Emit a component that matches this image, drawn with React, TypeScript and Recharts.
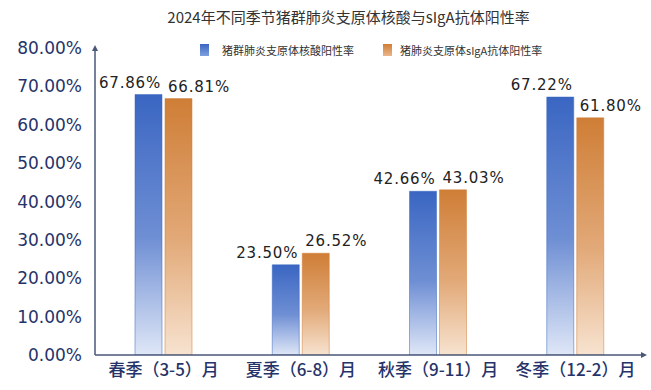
import React from 'react';
import { BarChart, Bar, XAxis, YAxis, LabelList, Legend } from 'recharts';

const categories = ['春季（3-5）月', '夏季（6-8）月', '秋季（9-11）月', '冬季（12-2）月'];
const nucleicRate = [67.86, 23.5, 42.66, 67.22];
const sigaRate = [66.81, 26.52, 43.03, 61.8];
const yTicks = [0, 10, 20, 30, 40, 50, 60, 70, 80];
const seriesNames = ['猪群肺炎支原体核酸阳性率', '猪肺炎支原体sIgA抗体阳性率'];
const titleText = '2024年不同季节猪群肺炎支原体核酸与sIgA抗体阳性率';

const data = categories.map((c, i) => ({ name: c, a: nucleicRate[i], b: sigaRate[i] }));

const NUM_FONT = '"DejaVu Sans", sans-serif';
const CJK_FONT = '"Noto Sans CJK SC", sans-serif';
const NAVY = '#26336a';

const makeLabel = (side: 'left' | 'right') => (props: any) => {
  const { x, y, width, value } = props;
  const tx = side === 'left' ? Number(x) + Number(width) - 1 : Number(x) + 3;
  return (
    <text
      x={tx}
      y={Number(y) - 7}
      textAnchor={side === 'left' ? 'end' : 'start'}
      fontFamily={NUM_FONT}
      fontSize={15}
      letterSpacing={0.8}
      fill="#222"
    >
      {Number(value).toFixed(2) + '%'}
    </text>
  );
};

const LegendContent = () => (
  <div style={{ position: 'relative', height: 16, fontFamily: CJK_FONT, fontSize: 11, color: '#333' }}>
    <div style={{ position: 'absolute', left: 200, top: 2, width: 9, height: 12, background: 'linear-gradient(#3a66c2, #7f9fdc)' }} />
    <div style={{ position: 'absolute', left: 222, top: 0, whiteSpace: 'nowrap', lineHeight: '16px' }}>{seriesNames[0]}</div>
    <div style={{ position: 'absolute', left: 383, top: 2, width: 9, height: 12, background: 'linear-gradient(#cf7e36, #eab68a)' }} />
    <div style={{ position: 'absolute', left: 400, top: 0, whiteSpace: 'nowrap', lineHeight: '16px' }}>{seriesNames[1]}</div>
  </div>
);

export default function App() {
  return (
    <div style={{ position: 'absolute', left: 0, top: 0, width: 651, height: 390, background: '#fff' }}>
      <div
        style={{
          position: 'absolute',
          left: 0,
          top: 7,
          width: 697,
          textAlign: 'center',
          fontFamily: CJK_FONT,
          fontSize: 15,
          color: '#333',
          lineHeight: '20px',
          whiteSpace: 'nowrap',
        }}
      >
        {titleText}
      </div>
      <BarChart
        width={651}
        height={390}
        data={data}
        margin={{ top: 32, right: 7, bottom: 5, left: 0 }}
        barSize={27}
        barGap={3}
      >
        <defs>
          <linearGradient id="gBlue" x1="0" y1="0" x2="0" y2="1">
            <stop offset="0%" stopColor="#3a66c2" />
            <stop offset="55%" stopColor="#6f8fd4" />
            <stop offset="100%" stopColor="#dfe7f7" />
          </linearGradient>
          <linearGradient id="gOrange" x1="0" y1="0" x2="0" y2="1">
            <stop offset="0%" stopColor="#cf7e36" />
            <stop offset="55%" stopColor="#e2a978" />
            <stop offset="100%" stopColor="#f7e3d0" />
          </linearGradient>
          <marker id="arrow" viewBox="0 0 10 10" refX="5" refY="5" markerWidth="6" markerHeight="6" orient="auto-start-reverse" markerUnits="userSpaceOnUse">
            <path d="M0,0 L10,5 L0,10 z" fill="#4a5878" />
          </marker>
        </defs>
        <Legend verticalAlign="top" content={<LegendContent />} wrapperStyle={{ top: 42, left: 0, width: 651 }} />
        <XAxis
          dataKey="name"
          axisLine={{ stroke: '#4a5878', strokeWidth: 1.5, markerEnd: 'url(#arrow)' } as any}
          tickLine={false}
          tickSize={0}
          tickMargin={9}
          height={30}
          tick={{ fill: NAVY, fontSize: 17, fontFamily: CJK_FONT, fontWeight: 500 }}
          interval={0}
        />
        <YAxis
          width={95}
          domain={[0, 80]}
          ticks={yTicks}
          allowDataOverflow
          axisLine={{ stroke: '#4a5878', strokeWidth: 1.5, markerStart: 'url(#arrow)' } as any}
          tickLine={false}
          tickSize={0}
          tickMargin={13}
          tickFormatter={(v: number) => v.toFixed(2) + '%'}
          tick={{ fill: NAVY, fontSize: 17, fontFamily: NUM_FONT }}
        />
        <Bar dataKey="a" name={seriesNames[0]} fill="url(#gBlue)" stroke="#3a66c2" strokeOpacity={0.5} isAnimationActive={false}>
          <LabelList dataKey="a" content={makeLabel('left')} />
        </Bar>
        <Bar dataKey="b" name={seriesNames[1]} fill="url(#gOrange)" stroke="#cf7e36" strokeOpacity={0.5} isAnimationActive={false}>
          <LabelList dataKey="b" content={makeLabel('right')} />
        </Bar>
      </BarChart>
    </div>
  );
}
